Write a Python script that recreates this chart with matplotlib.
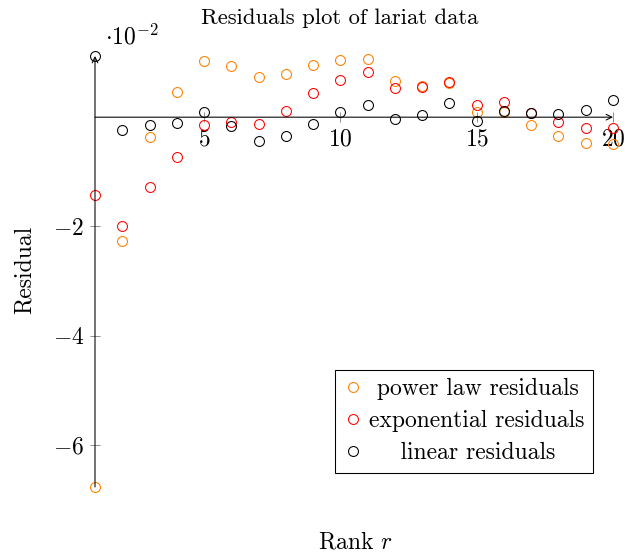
import numpy as np
import matplotlib
matplotlib.use("Agg")
import matplotlib.pyplot as plt

###################################################################################
# Data (residuals in units of 1e-2)
###################################################################################
rank = np.arange(1, 21)

power_res = [-6.77, -2.26, -0.37, 0.46, 1.02, 0.93, 0.73, 0.79, 0.95, 1.05,
             1.07, 0.66, 0.57, 0.62, 0.10, 0.10, -0.15, -0.34, -0.48, -0.49]
exp_res = [-1.42, -1.99, -1.27, -0.72, -0.14, -0.08, -0.13, 0.12, 0.44, 0.68,
           0.82, 0.53, 0.55, 0.65, 0.22, 0.28, 0.08, -0.09, -0.20, -0.19]
lin_res = [1.12, -0.24, -0.15, -0.11, 0.09, -0.17, -0.44, -0.34, -0.13, 0.09,
           0.22, -0.04, 0.04, 0.26, -0.07, 0.11, 0.07, 0.06, 0.13, 0.32]

labels = ["power law residuals", "exponential residuals", "linear residuals"]
colors = ["#ff8000", "#ff0000", "black"]
xticks = [5, 10, 15, 20]
yticks = [-6, -4, -2]

plt.rcParams['font.family'] = 'cmr10'
plt.rcParams['mathtext.fontset'] = 'cm'
plt.rcParams['font.size'] = 10

DPI = 170
fig = plt.figure(figsize=(634 / DPI, 552 / DPI), dpi=DPI)
ax = fig.add_axes([95 / 634, 1 - 487 / 552, (613 - 95) / 634, (487 - 56) / 552])

for ys, lab, c in zip([power_res, exp_res, lin_res], labels, colors):
    ax.plot(rank, ys, 'o', mfc='none', mec=c, ms=4.2, mew=0.45, label=lab, clip_on=False, zorder=3)

allv = np.concatenate([power_res, exp_res, lin_res])
ax.set_xlim(rank.min(), rank.max())
ax.set_ylim(allv.min(), allv.max())

# axis lines in the middle with arrows
for s in ax.spines.values():
    s.set_color('none')
ax.spines['bottom'].set_position('zero')
ax.annotate('', xy=(1, 0), xytext=(0, 0), xycoords=('axes fraction', 'data'),
            arrowprops=dict(arrowstyle='->', lw=0.45, color='black', shrinkA=0, shrinkB=0,
                            mutation_scale=6))
ax.annotate('', xy=(0, 1), xytext=(0, 0), xycoords='axes fraction',
            arrowprops=dict(arrowstyle='->', lw=0.45, color='black', shrinkA=0, shrinkB=0,
                            mutation_scale=6))

ax.set_xticks(xticks)
ax.set_xticklabels(['$%d$' % v for v in xticks])
ax.set_yticks(yticks)
ax.set_yticklabels(['$%d$' % v for v in yticks])
ax.tick_params(direction='inout', length=4.3, width=0.4, color='0.55', pad=2.5)

ax.text(0.02, 1.015, r'$\cdot 10^{-2}$', transform=ax.transAxes, ha='left', va='bottom')
fig.text(340 / 634, 1 - 18 / 552, 'Residuals plot of lariat data', ha='center', va='center',
         fontsize=9.6)
fig.text(25 / 634, 1 - 270 / 552, 'Residual', rotation=90, ha='center', va='center')
fig.text(355 / 634, 1 - 542 / 552, 'Rank $r$', ha='center', va='center')

# legend (text roughly centred as in pgfplots)
h, l = ax.get_legend_handles_labels()
l = [' ' + l[0], l[1], '    ' + l[2]]
leg = ax.legend(h, l, loc='upper left', bbox_to_anchor=(335 / 634, 1 - 370 / 552),
                bbox_transform=fig.transFigure, borderaxespad=0, fancybox=False,
                framealpha=1, edgecolor='black', handlelength=0.8, handletextpad=0.3,
                borderpad=0.35, labelspacing=0.42)
leg.get_frame().set_linewidth(0.45)

fig.savefig('out.png', dpi=DPI)
